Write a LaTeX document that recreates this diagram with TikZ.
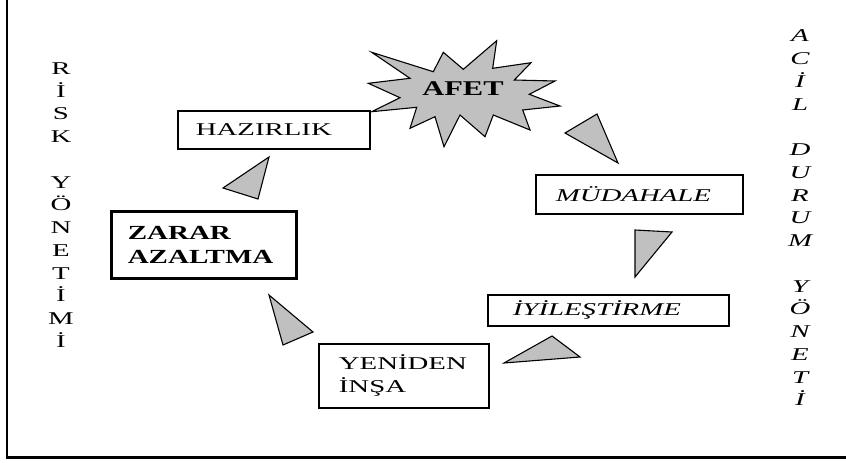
\documentclass[tikz,border=0pt]{standalone}
\usepackage{fontspec}
\usepackage{graphicx}
\setmainfont{Liberation Serif}
\newcommand\stw[1]{\scalebox{1.6}[1]{#1}}
\newcommand\stb[1]{\scalebox{1.45}[1]{#1}}
\definecolor{triGray}{HTML}{C0C0C0}
\begin{document}
\begin{tikzpicture}[x=1pt,y=-1pt,
  stagebox/.style={draw, line width=1.8pt, anchor=north west, align=left,
    font=\fontsize{18}{23}\selectfont},
  arrowtri/.style={draw, line width=1.1pt, fill=triGray, line join=miter},
  vertext/.style={align=center, inner sep=0pt}
]
\useasboundingbox (0,0) rectangle (846,463);
% frame
\draw[line width=2.5pt] (7,0) -- (7,457);
\draw[line width=3pt] (5.75,457) -- (846,457);

% starburst
\draw[arrowtri] (371.7,52.3) -- (433.3,71.7) -- (443.3,52.3) -- (463.3,69.3) -- (496.7,40.7) -- (492.7,68.3)
  -- (531,62.7) -- (514.3,80) -- (555,81) -- (529.3,94.3) -- (560,106) -- (522.7,110) -- (530,130)
  -- (493.3,115) -- (485,136.7) -- (460,115) -- (444,146.7) -- (435,116.7) -- (410,128.3)
  -- (416.7,107.3) -- (371.7,111.7) -- (400,97.7) -- (368.3,83.3) -- (410,78.3) -- cycle;
\node[font=\bfseries\fontsize{21}{24}\selectfont] (afet) at (463,89) {\stb{AFET}};

% stage boxes
\node[stagebox, minimum width=192pt, minimum height=38pt, inner xsep=18pt, text width=156pt] (hazirlik) at (177,110) {\stw{HAZIRLIK}};
\node[stagebox, line width=2.6pt, minimum width=185pt, minimum height=67pt, inner xsep=16.5pt, text width=152pt,
  font=\bfseries\fontsize{20}{24}\selectfont] (zarar) at (110,210) {\stb{ZARAR}\\\stb{AZALTMA}};
\node[stagebox, minimum width=207pt, minimum height=39pt, inner xsep=20pt, text width=167pt,
  font=\itshape\fontsize{18}{23}\selectfont] (mudahale) at (535,174) {\stw{MÜDAHALE}};
\node[stagebox, minimum width=241pt, minimum height=31pt, inner xsep=25pt, text width=191pt,
  font=\itshape\fontsize{18}{23}\selectfont] (iyilestirme) at (487,294) {\stw{İYİLEŞTİRME}};
\node[stagebox, minimum width=170pt, minimum height=64pt, inner xsep=20pt, text width=130pt] (yeniden) at (318,343) {\stw{YENİDEN}\\\stw{İNŞA}};

% triangles (cycle arrows)
\draw[arrowtri] (565,133) -- (597,114) -- (618,163) -- cycle;
\draw[arrowtri] (635,230) -- (672,232) -- (635,277) -- cycle;
\draw[arrowtri] (504,363) -- (552,336) -- (580,357) -- cycle;
\draw[arrowtri] (269,295) -- (313,332) -- (283,345) -- cycle;
\draw[arrowtri] (223,188) -- (269,157) -- (258,199) -- cycle;

% vertical texts
\node[vertext, font=\fontsize{18}{22.75}\selectfont] (risk) at (61,205)
  {\stw{R}\\\stw{İ}\\\stw{S}\\\stw{K}\\[22.75pt]\stw{Y}\\\stw{Ö}\\\stw{N}\\\stw{E}\\\stw{T}\\\stw{İ}\\\stw{M}\\\stw{İ}};
\node[vertext, font=\itshape\fontsize{18}{22.75}\selectfont] (acil) at (800,218)
  {\stw{A}\\\stw{C}\\\stw{İ}\\\stw{L}\\[22.75pt]\stw{D}\\\stw{U}\\\stw{R}\\\stw{U}\\\stw{M}\\[22.75pt]\stw{Y}\\\stw{Ö}\\\stw{N}\\\stw{E}\\\stw{T}\\\stw{İ}};
\end{tikzpicture}
\end{document}
